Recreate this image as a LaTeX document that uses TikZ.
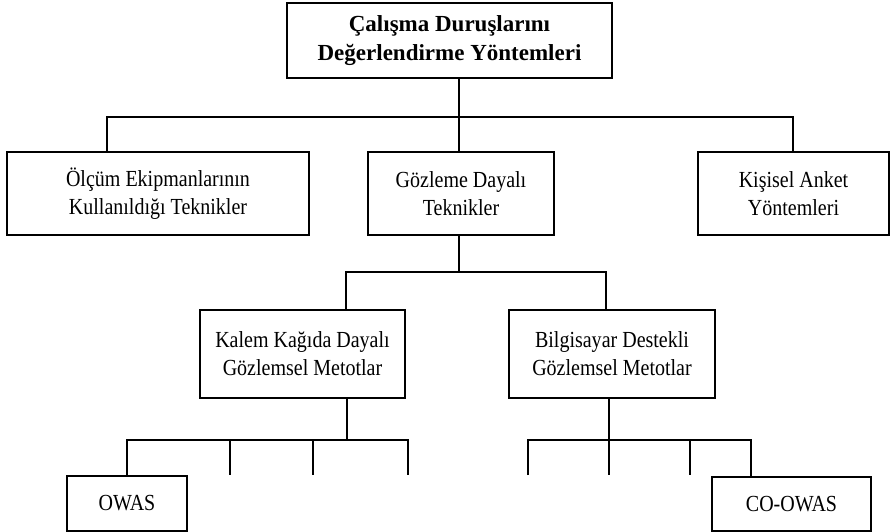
\documentclass[tikz,border=0pt]{standalone}
\usepackage{fontspec}
\setmainfont{Liberation Serif}
\newfontfamily\narrowserif{Liberation Serif}[FakeStretch=0.87]
\begin{document}
\begin{tikzpicture}[x=1pt,y=-1pt,
  box/.style={draw,line width=1.7pt,rectangle,align=center,inner sep=0pt,
    font=\narrowserif\fontsize{23}{28}\selectfont},
  titlebox/.style={draw,line width=1.7pt,rectangle,align=center,inner sep=0pt,
    font=\fontsize{23}{29}\selectfont\bfseries},
  conn/.style={line width=1.7pt}]
\useasboundingbox (0,0) rectangle (891,532);
\node[titlebox,minimum width=325pt,minimum height=75pt] (top) at (449.5,40.5) {Çalışma Duruşlarını\\Değerlendirme Yöntemleri};
\node[box,minimum width=302pt,minimum height=83pt] (A) at (158,193.5) {Ölçüm Ekipmanlarının\\Kullanıldığı Teknikler};
\node[box,minimum width=186pt,minimum height=83pt] (B) at (461,193.5) {Gözleme Dayalı\\Teknikler};
\node[box,minimum width=191pt,minimum height=83pt] (C) at (793.5,193.5) {Kişisel Anket\\Yöntemleri};
\node[box,minimum width=205pt,minimum height=88pt] (D) at (302.5,354) {Kalem Kağıda Dayalı\\Gözlemsel Metotlar};
\node[box,minimum width=206pt,minimum height=88pt] (E) at (612,354) {Bilgisayar Destekli\\Gözlemsel Metotlar};
\node[box,minimum width=120pt,minimum height=55pt] (owas) at (127,503.5) {OWAS};
\node[box,minimum width=159pt,minimum height=54pt] (coowas) at (791.5,504) {CO-OWAS};
% level 1
\coordinate (j1) at (459,117);
\coordinate (k1) at (107,117);
\coordinate (k3) at (793,117);
\draw[conn] (j1 |- top.south) -- (j1);
\draw[conn] (k1 |- A.north) -- (k1) -- (k3) -- (k3 |- C.north);
\draw[conn] (j1) -- (j1 |- B.north);
% level 2
\coordinate (j2) at (459,272);
\coordinate (k4) at (346,272);
\coordinate (k5) at (606,272);
\draw[conn] (j2 |- B.south) -- (j2);
\draw[conn] (k4 |- D.north) -- (k4) -- (k5) -- (k5 |- E.north);
% level 3 left
\coordinate (j3) at (347,440);
\coordinate (l1) at (127,440);
\coordinate (l2) at (230,440);
\coordinate (l3) at (313,440);
\coordinate (l4) at (408,440);
\coordinate (e2) at (230,475);
\coordinate (e3) at (313,475);
\coordinate (e4) at (408,475);
\draw[conn] (j3 |- D.south) -- (j3);
\draw[conn] (l1 |- owas.north) -- (l1) -- (l4) -- (e4);
\draw[conn] (l2) -- (e2);
\draw[conn] (l3) -- (e3);
% level 3 right
\coordinate (j4) at (609,440);
\coordinate (m1) at (528,440);
\coordinate (m3) at (690,440);
\coordinate (m4) at (751,440);
\coordinate (f1) at (528,475);
\coordinate (f2) at (609,475);
\coordinate (f3) at (690,475);
\draw[conn] (j4 |- E.south) -- (j4) -- (f2);
\draw[conn] (f1) -- (m1) -- (m4) -- (m4 |- coowas.north);
\draw[conn] (m3) -- (f3);
\end{tikzpicture}
\end{document}
